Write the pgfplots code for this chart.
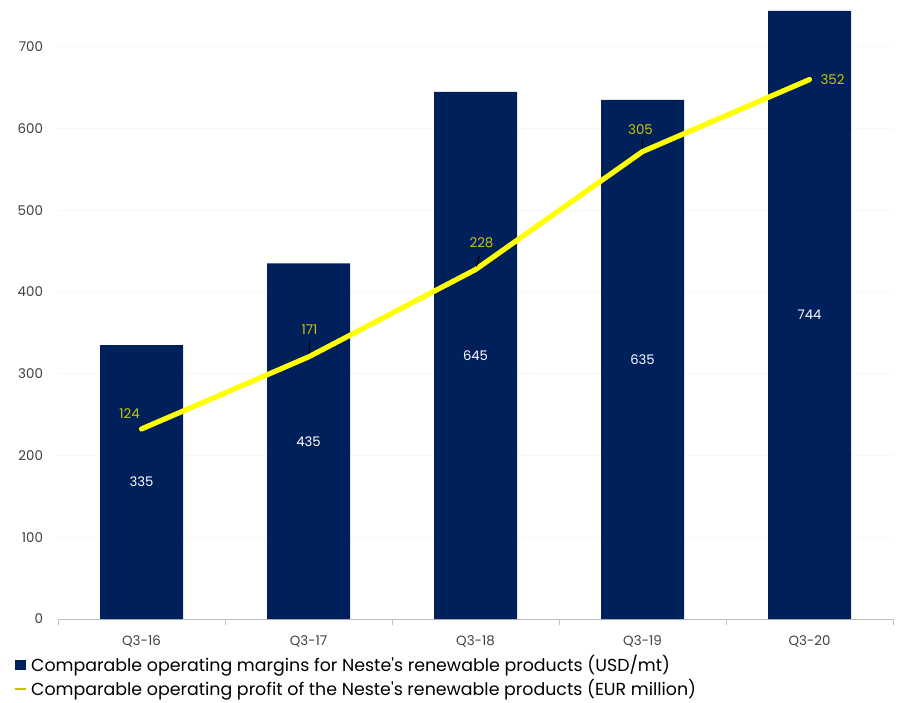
\documentclass[border=0pt]{standalone}
\usepackage{fontspec}
\setmainfont{Poppins}
\usepackage{pgfplots}
\pgfplotsset{compat=1.18}
\usepackage{pgfplotstable}
\definecolor{navy}{HTML}{00205B}
\definecolor{lineyel}{HTML}{FFFF00}
\definecolor{lblyel}{HTML}{C8C800}
\definecolor{ticktxt}{HTML}{404040}
\definecolor{axgray}{HTML}{BFBFBF}

\pgfplotstableread{
x m
0 335
1 435
2 645
3 635
4 744
}\bars
\pgfplotstableread{
x p dx dy
0 124 -6 7.5
1 171 0.5 13.5
2 228 3 13.5
3 305 -1 11
4 352 11.5 0
}\profit

\begin{document}
\begin{tikzpicture}
\path[use as bounding box] (0,0) rectangle (451.5pt,351pt);
\begin{axis}[
  at={(29pt,41.5pt)}, anchor=south west,
  scale only axis, width=417.5pt, height=306.5pt,
  xmin=-0.5, xmax=4.5, ymin=0, ymax=750,
  axis line style={axgray},
  axis y line*=left,
  y axis line style={draw=none},
  axis x line*=bottom,
  xtick={0,1,2,3,4},
  xticklabels={Q3-16,Q3-17,Q3-18,Q3-19,Q3-20},
  minor xtick={-0.5,0.5,1.5,2.5,3.5,4.5},
  major x tick style={draw=none},
  major y tick style={draw=none},
  minor x tick style={axgray},
  minor tick length=3pt,
  major tick length=0pt,
  tick align=outside,
  ytick={0,100,...,700},
  ymajorgrids, grid style={black!3},
  /pgf/number format/assume math mode=true,
  tick label style={font=\fontsize{6.7}{8}\selectfont, text=ticktxt},
  xticklabel style={yshift=-5pt},
  yticklabel style={xshift=-4pt},
  legend style={at={(-0.053,-0.052)}, anchor=north west, draw=none, fill=none,
    font=\fontsize{8.7}{10}\selectfont, text=black, row sep=-1.5pt, inner sep=0pt,
    /tikz/every even column/.append style={column sep=0.5pt}},
  legend cell align=left,
]
\addplot[ybar, bar width=41.5pt, fill=navy, draw=none,
  legend image code/.code={\fill[navy] (0pt,-2.6pt) rectangle (5.2pt,2.6pt);}]
  table[x=x, y=m] {\bars};
\addlegendentry{Comparable operating margins for Neste\textquotesingle s renewable products (USD/mt)}
\addlegendimage{legend image code/.code={\draw[line width=1pt, lblyel!80!orange] (0pt,0pt) -- (5.5pt,0pt);}}
\addlegendentry{Comparable operating profit of the Neste\textquotesingle s renewable products (EUR million)}
\addplot[draw=none, mark=none, forget plot, nodes near coords, point meta=explicit symbolic,
  every node near coord/.append style={anchor=center, text=white, font=\fontsize{6.6}{8}\selectfont}]
  table[x=x, y expr=\thisrow{m}/2, meta=m] {\bars};
\end{axis}
\begin{axis}[
  at={(29pt,41.5pt)}, anchor=south west,
  scale only axis, width=417.5pt, height=306.5pt,
  xmin=-0.5, xmax=4.5, ymin=0, ymax=400,
  hide axis, clip=false,
]
\addplot[lineyel, line width=2.6pt, line cap=round, line join=round, mark=none,
  nodes near coords, point meta=explicit symbolic,
  visualization depends on={\thisrow{dx} \as \dx},
  visualization depends on={\thisrow{dy} \as \dy},
  every node near coord/.append style={anchor=center, text=lblyel, font=\fontsize{6.7}{8}\selectfont,
    xshift=\dx pt, yshift=\dy pt}]
  table[x=x, y=p, meta=p] {\profit};
\draw[black, line width=0.5pt] (axis cs:1,171) ++(0.2pt,1.5pt) -- ++(0.6pt,6.5pt);
\draw[black, line width=0.5pt] (axis cs:2,228) ++(0.5pt,1.5pt) -- ++(1.5pt,5.5pt);
\draw[black, line width=0.5pt] (axis cs:3,305) ++(0pt,1.5pt) -- ++(0pt,5pt);
\end{axis}
\end{tikzpicture}
\end{document}
